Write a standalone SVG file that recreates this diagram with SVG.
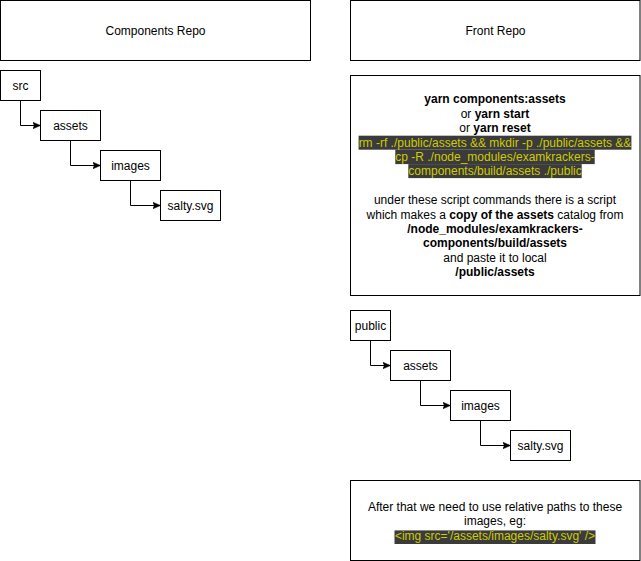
<svg xmlns="http://www.w3.org/2000/svg" width="641" height="561" viewBox="0 0 641 561">
  <style>
    .box { fill: #ffffff; stroke: #000000; stroke-width: 1; }
    .lbl { font-family: "Liberation Sans", Helvetica, Arial, sans-serif; font-size: 12px; fill: #000000; text-anchor: middle; }
    .b { font-weight: bold; }
    .code { fill: #cccc00; }
    .hl { fill: #3b3b3b; }
    .edge { fill: none; stroke: #000000; stroke-width: 1; }
  </style>
  <defs>
    <marker id="arrow" markerUnits="userSpaceOnUse" markerWidth="10" markerHeight="10" refX="8" refY="4" orient="auto">
      <path d="M0,0.5 L8,4 L0,7.5 L2,4 Z" fill="#000000" stroke="#000000" stroke-width="0.5"/>
    </marker>
  </defs>
  <rect width="641" height="561" fill="#ffffff"/>

  <!-- column headers -->
  <g id="components-repo">
    <rect class="box" x="0.5" y="0.5" width="310" height="60"/>
    <text class="lbl" x="155.5" y="34.5">Components Repo</text>
  </g>
  <g id="front-repo">
    <rect class="box" x="350.5" y="0.5" width="289.5" height="60"/>
    <text class="lbl" x="495.5" y="34.5">Front Repo</text>
  </g>

  <!-- components repo tree -->
  <g id="c-src">
    <rect class="box" x="0.5" y="70.5" width="40" height="30"/>
    <text class="lbl" x="20.5" y="89.5">src</text>
  </g>
  <g id="c-assets">
    <rect class="box" x="40.5" y="110.5" width="60" height="30"/>
    <text class="lbl" x="70.5" y="129.5">assets</text>
  </g>
  <g id="c-images">
    <rect class="box" x="100.5" y="150.5" width="60" height="30"/>
    <text class="lbl" x="130.5" y="169.5">images</text>
  </g>
  <g id="c-salty">
    <rect class="box" x="160.5" y="190.5" width="60" height="30"/>
    <text class="lbl" x="190.5" y="209.5">salty.svg</text>
  </g>

  <!-- script description -->
  <g id="script-note">
    <rect class="box" x="350.5" y="75.5" width="289.5" height="220"/>
    <rect class="hl" x="358.6" y="135.7" width="272.8" height="14"/>
    <rect class="hl" x="395.3" y="149.7" width="199.4" height="14.4"/>
    <rect class="hl" x="408.3" y="164.1" width="173.4" height="14"/>
    <text class="lbl" x="495" y="103.4"><tspan class="b">yarn components:assets</tspan></text>
    <text class="lbl" x="495" y="117.8">or <tspan class="b">yarn start</tspan></text>
    <text class="lbl" x="495" y="132.2">or <tspan class="b">yarn reset</tspan></text>
    <text class="lbl code" x="495" y="146.6">rm -rf ./public/assets &amp;&amp; mkdir -p ./public/assets &amp;&amp;</text>
    <text class="lbl code" x="495" y="161">cp -R ./node_modules/examkrackers-</text>
    <text class="lbl code" x="495" y="175.4">components/build/assets ./public</text>
    <text class="lbl" x="495" y="204.2">under these script commands there is a script</text>
    <text class="lbl" x="495" y="218.6">which makes a <tspan class="b">copy of the assets</tspan> catalog from</text>
    <text class="lbl b" x="495" y="233">/node_modules/examkrackers-</text>
    <text class="lbl b" x="495" y="247.4">components/build/assets</text>
    <text class="lbl" x="495" y="261.8">and paste it to local</text>
    <text class="lbl b" x="495" y="276.2">/public/assets</text>
  </g>

  <!-- front repo tree -->
  <g id="f-public">
    <rect class="box" x="350.5" y="310.5" width="40" height="30"/>
    <text class="lbl" x="370.5" y="329.5">public</text>
  </g>
  <g id="f-assets">
    <rect class="box" x="390.5" y="350.5" width="60" height="30"/>
    <text class="lbl" x="420.5" y="369.5">assets</text>
  </g>
  <g id="f-images">
    <rect class="box" x="450.5" y="390.5" width="60" height="30"/>
    <text class="lbl" x="480.5" y="409.5">images</text>
  </g>
  <g id="f-salty">
    <rect class="box" x="510.5" y="430.5" width="60" height="30"/>
    <text class="lbl" x="540.5" y="449.5">salty.svg</text>
  </g>

  <!-- usage note -->
  <g id="usage-note">
    <rect class="box" x="350.5" y="480.5" width="289.5" height="80"/>
    <rect class="hl" x="394.5" y="530.4" width="201" height="13.6"/>
    <text class="lbl" x="495" y="511">After that we need to use relative paths to these</text>
    <text class="lbl" x="495" y="525.4">images, eg:</text>
    <text class="lbl code" x="495" y="540.4">&lt;img src='/assets/images/salty.svg' /&gt;</text>
  </g>

  <!-- connectors -->
  <g id="connectors">
    <path class="edge" marker-end="url(#arrow)" d="M20.5,100.5 V125.5 H40.5"/>
    <path class="edge" marker-end="url(#arrow)" d="M70.5,140.5 V165.5 H100.5"/>
    <path class="edge" marker-end="url(#arrow)" d="M130.5,180.5 V205.5 H160.5"/>
    <path class="edge" marker-end="url(#arrow)" d="M370.5,340.5 V365.5 H390.5"/>
    <path class="edge" marker-end="url(#arrow)" d="M420.5,380.5 V405.5 H450.5"/>
    <path class="edge" marker-end="url(#arrow)" d="M480.5,420.5 V445.5 H510.5"/>
  </g>
</svg>
